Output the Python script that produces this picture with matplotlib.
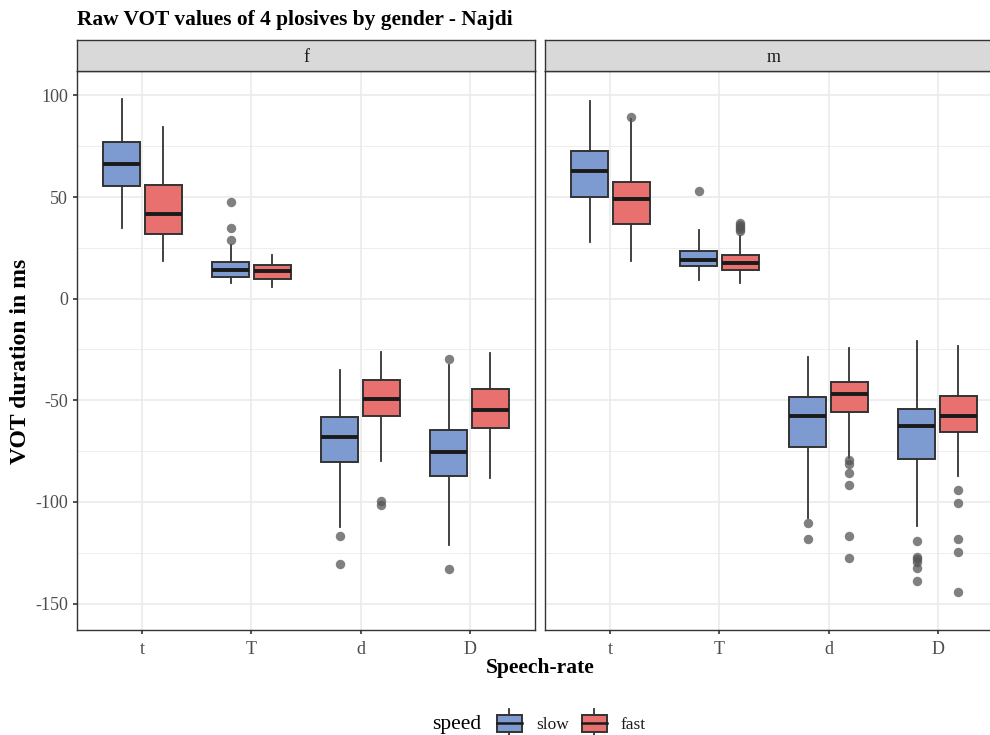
import numpy as np
import matplotlib.pyplot as plt
from matplotlib.legend_handler import HandlerBase
from matplotlib.patches import Rectangle
from matplotlib.lines import Line2D
from matplotlib.offsetbox import HPacker

plt.rcParams['font.family'] = ['Liberation Serif', 'DejaVu Serif']
plt.rcParams['axes.unicode_minus'] = False

phones = ["t", "T", "d", "D"]
genders = ["f", "m"]
speeds = ["slow", "fast"]

# five-number summaries per phone: (lower whisker, q1, median, q3, upper whisker)
f_slow_box = [(35.0, 55.2, 66.2, 77.3, 98.2), (7.7, 10.8, 13.9, 17.8, 26.5),
              (-112.2, -80.3, -68.0, -58.4, -35.3), (-121.0, -87.2, -75.2, -64.4, -32.8)]
f_fast_box = [(18.3, 31.8, 41.6, 56.0, 84.4), (5.6, 9.7, 13.4, 16.4, 21.3),
              (-80.0, -57.9, -49.3, -40.2, -26.0), (-88.2, -63.8, -54.6, -44.4, -26.7)]
m_slow_box = [(27.9, 50.1, 62.9, 72.6, 97.2), (9.0, 16.2, 19.2, 23.3, 33.6),
              (-107.8, -72.8, -57.5, -48.5, -28.9), (-111.9, -78.7, -62.8, -54.2, -21.0)]
m_fast_box = [(18.3, 36.9, 49.0, 57.2, 88.3), (7.7, 14.2, 17.5, 21.3, 30.8),
              (-78.3, -56.0, -46.9, -41.0, -24.4), (-87.0, -65.7, -57.5, -47.8, -23.5)]

# outlying tokens per phone
f_slow_out = [[], [47.8, 34.8, 29.0], [-117.0, -130.6], [-29.6, -133.2]]
f_fast_out = [[], [], [-99.3, -101.6], []]
m_slow_out = [[], [53.1], [-110.3, -118.1],
              [-119.1, -127.2, -128.0, -129.4, -132.7, -138.8]]
m_fast_out = [[89.6], [37.3, 36.0, 35.2, 34.5, 33.5],
              [-79.2, -81.3, -85.7, -91.8, -116.7, -127.8],
              [-94.0, -100.6, -118.0, -124.7, -144.2]]

boxes = {("f", "slow"): (f_slow_box, f_slow_out), ("f", "fast"): (f_fast_box, f_fast_out),
         ("m", "slow"): (m_slow_box, m_slow_out), ("m", "fast"): (m_fast_box, m_fast_out)}

fill = {"slow": "#7d9bd0", "fast": "#e8706e"}
edge = "#333333"
grid = "#ebebeb"
txt = "#4d4d4d"

W, H = 990, 735
fig = plt.figure(figsize=(W / 100, H / 100), dpi=100)


def frac(x0, y0, x1, y1):
    return [x0 / W, 1 - y1 / H, (x1 - x0) / W, (y1 - y0) / H]


panel_x = {"f": (77, 535), "m": (545, 1003)}
top, bottom, strip_top = 71, 630, 40
offsets = {"slow": -0.19, "fast": 0.19}

for g in genders:
    x0, x1 = panel_x[g]
    ax = fig.add_axes(frac(x0, top, x1, bottom))
    for s in speeds:
        box, out = boxes[(g, s)]
        stats = []
        for (lo, q1, med, q3, hi), fl in zip(box, out):
            stats.append(dict(whislo=lo, q1=q1, med=med, q3=q3, whishi=hi, fliers=fl))
        pos = np.arange(len(phones)) + offsets[s]
        ax.bxp(stats, positions=pos, widths=0.34, patch_artist=True,
               boxprops=dict(facecolor=fill[s], edgecolor=edge, linewidth=1.4),
               medianprops=dict(color="#1a1a1a", linewidth=2.8, solid_capstyle="butt"),
               whiskerprops=dict(color=edge, linewidth=1.3),
               capprops=dict(linewidth=0),
               flierprops=dict(marker="o", markersize=6.8, markerfacecolor="#555555",
                               markeredgecolor="none", alpha=0.75),
               zorder=3)
    ax.set_xlim(-0.6, 3.6)
    ax.set_ylim(-163, 112)
    ax.set_yticks([-150, -100, -50, 0, 50, 100])
    ax.set_yticks([-125, -75, -25, 25, 75], minor=True)
    ax.set_xticks(range(len(phones)))
    ax.set_xticklabels(phones)
    ax.grid(True, which="major", color=grid, linewidth=1.2, zorder=0)
    ax.grid(True, which="minor", axis="y", color=grid, linewidth=0.6, zorder=0)
    ax.set_axisbelow(True)
    for sp in ax.spines.values():
        sp.set_color("#333333")
        sp.set_linewidth(1.0)
    ax.tick_params(axis="both", which="major", length=3, width=1.2, color="#333333",
                   labelcolor=txt, labelsize=13)
    ax.tick_params(axis="x", which="major", pad=5)
    ax.tick_params(axis="y", which="minor", length=0)
    if g == "m":
        ax.tick_params(axis="y", which="both", left=False, labelleft=False)

    # facet strip
    sax = fig.add_axes(frac(x0, strip_top, x1, top))
    sax.set_xticks([])
    sax.set_yticks([])
    sax.set_facecolor("#d9d9d9")
    for sp in sax.spines.values():
        sp.set_color("#333333")
        sp.set_linewidth(1.0)
    sax.text(0.5, 0.45, g, ha="center", va="center", fontsize=13, color="#1a1a1a",
             transform=sax.transAxes)

fig.text(77 / W, 1 - 20 / H, "Raw VOT values of 4 plosives by gender - Najdi",
         fontsize=15.4, fontweight="bold", ha="left", va="center")
fig.text(21 / W, 1 - 361 / H, "VOT duration in ms", rotation=90,
         fontsize=17, fontweight="bold", ha="center", va="center")
fig.text(540 / W, 1 - 668 / H, "Speech-rate", fontsize=15.5, fontweight="bold",
         ha="center", va="center")


class BoxKey(HandlerBase):
    def create_artists(self, legend, orig_handle, xdescent, ydescent, width, height,
                       fontsize, trans):
        c = orig_handle.get_facecolor()
        bw = width
        bx = xdescent
        rect = Rectangle((bx, -ydescent), bw, height, facecolor=c,
                         edgecolor=edge, linewidth=1.4, transform=trans)
        cx = xdescent + width / 2
        wt = Line2D([cx, cx], [-ydescent + height, -ydescent + height * 1.35],
                    color=edge, linewidth=1.3, transform=trans)
        wb = Line2D([cx, cx], [-ydescent - height * 0.35, -ydescent],
                    color=edge, linewidth=1.3, transform=trans)
        md = Line2D([bx, bx + bw], [-ydescent + height / 2] * 2, color="#1a1a1a",
                    linewidth=1.8, transform=trans)
        return [wt, wb, rect, md]


handles = [Rectangle((0, 0), 1, 1, facecolor=fill[s]) for s in speeds]
leg = fig.legend(handles, speeds, loc="center", bbox_to_anchor=(539 / W, 1 - 724 / H),
                 ncol=2, frameon=False, handler_map={Rectangle: BoxKey()},
                 handlelength=1.45, handleheight=1.1, columnspacing=0.75,
                 handletextpad=0.8, fontsize=12.5, title="speed")
# title sits beside the keys, as in a horizontal ggplot legend
title_box = leg._legend_title_box
body = leg._legend_handle_box
leg._legend_box._children = [HPacker(pad=0, sep=11, children=[title_box, body],
                                     align="center")]
leg.get_title().set_fontsize(15.5)
for t in leg.get_texts():
    t.set_color("#1a1a1a")

fig.savefig("out.png", dpi=100)
